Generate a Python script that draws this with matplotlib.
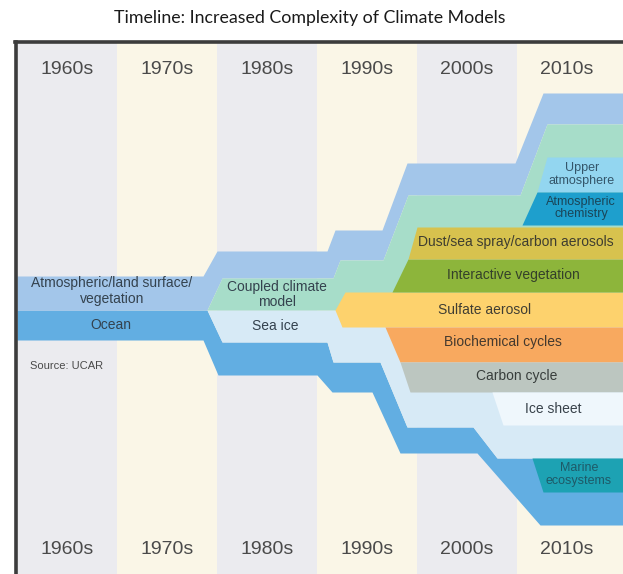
import numpy as np
import matplotlib
matplotlib.use("Agg")
import matplotlib.pyplot as plt

# ---------------- data ----------------
decades = [1960, 1970, 1980, 1990, 2000, 2010]
decade_labels = ["1960s", "1970s", "1980s", "1990s", "2000s", "2010s"]
column_colors = ["#EBEBEF", "#FAF6E7"]

# band edges: x in years, y in chart units (increasing downward)
atm_top_x = [1960, 1978.6, 1980.0, 1991.0, 1991.8, 1996.5, 1999.0, 2009.8, 2012.6, 2020.6]
atm_top_y = [276, 276, 251, 251, 230, 230, 163, 163, 93, 93]
atm_bot_x = [1960, 1979.0, 1980.5, 1991.6, 1992.3, 1996.6, 1999.1, 2010.3, 2013.0, 2020.6]
atm_bot_y = [310, 310, 278, 278, 260, 260, 195, 195, 124, 124]

ocean_top_x = [1960, 1979.0, 1980.5, 1991.0, 1991.6, 1996.3, 1999.0, 2005.6, 2008.0, 2020.6]
ocean_top_y = [310, 310, 342, 342, 362, 362, 427, 427, 458, 458]
ocean_bot_x = [1960, 1978.6, 1980.1, 1990.0, 1991.5, 1995.5, 1998.3, 2006.0, 2012.3, 2020.6]
ocean_bot_y = [340, 340, 375, 375, 392, 392, 453, 453, 525, 525]

seaice_start, seaice_top = 1979.0, 310
coupled_start, coupled_bot = 1979.0, 310

sulf_top_x, sulf_top_y = [1991.8, 1992.8, 2020.6], [310, 292, 292]
sulf_bot_x, sulf_bot_y = [1991.8, 1992.5, 2020.6], [310, 327, 327]

veg_top_x, veg_top_y = [1997.5, 1999.1, 2020.6], [292, 259, 259]
veg_bot = 292
dust_top_x, dust_top_y = [1999.1, 2000.0, 2020.6], [259, 227, 227]
dust_bot = 259

bio_top = 327
bio_bot_x, bio_bot_y = [1996.8, 1998.3, 2020.6], [327, 362, 362]
carb_top = 362
carb_bot_x, carb_bot_y = [1998.3, 1999.3, 2020.6], [362, 392, 392]
ice_top = 392
ice_bot_x, ice_bot_y = [2007.5, 2008.6, 2020.6], [392, 425, 425]

upper_top_x, upper_top_y = [2012.0, 2013.0, 2020.6], [192, 157, 157]
upper_bot = 192
chem_top_x, chem_top_y = [2010.5, 2012.0, 2020.6], [225, 192, 192]
chem_bot = 225
marine_top = 458
marine_bot_x, marine_bot_y = [2011.5, 2012.6, 2020.6], [458, 492, 492]

colors = {
    "atm": "#A3C6EA", "ocean": "#62AEE2", "seaice": "#D7EAF6", "coupled": "#A7DDC9",
    "sulf": "#FDD26D", "veg": "#8DB53B", "dust": "#D7C24E", "bio": "#F8A95F",
    "carb": "#BCC6C0", "ice": "#EFF7FC", "upper": "#93D6F0", "chem": "#1E9FCD",
    "marine": "#1DA2B3",
}

labels = [
    ("Atmospheric/land surface/\nvegetation", 1969.5, 291, 10, "#34424E"),
    ("Ocean", 1969.4, 325, 10, "#34424E"),
    ("Coupled climate\nmodel", 1986.0, 294.5, 10, "#34424E"),
    ("Sea ice", 1985.8, 326, 10, "#34424E"),
    ("Upper\natmosphere", 2016.5, 174.5, 9, "#34566A"),
    ("Atmospheric\nchemistry", 2016.4, 208, 9, "#1A4558"),
    ("Dust/sea spray/carbon aerosols", 2009.9, 242, 10, "#3E3D30"),
    ("Interactive vegetation", 2009.6, 275, 10, "#34402A"),
    ("Sulfate aerosol", 2006.8, 310, 10, "#403E33"),
    ("Biochemical cycles", 2008.6, 342, 10, "#44392E"),
    ("Carbon cycle", 2010.0, 376, 10, "#383E3C"),
    ("Ice sheet", 2013.6, 409, 10, "#38424A"),
    ("Marine\necosystems", 2016.2, 474.5, 9, "#1E5A68"),
]

# ---------------- plot ----------------
W, H = 623, 574
fig = plt.figure(figsize=(W / 100, H / 100), dpi=100)
fig.patch.set_facecolor("white")
ax_l, ax_t = 15.5, 41.5
ax = fig.add_axes([ax_l / W, 0, (W - ax_l) / W, 1 - ax_t / H])
x0 = 1960 - (17 - ax_l) / 10
ax.set_xlim(x0, 2020.6)
ax.set_ylim(574, ax_t)

for i, d in enumerate(decades):
    ax.axvspan(max(d, x0) if i else x0, d + 10 if i < len(decades) - 1 else 2021,
               color=column_colors[i % 2], lw=0, zorder=0)


def band(xt, yt, xb, yb, color, z):
    xs = np.union1d(xt, xb)
    top = np.interp(xs, xt, yt)
    bot = np.interp(xs, xb, yb)
    ax.fill_between(xs, top, bot, color=color, lw=0, zorder=z)


end = 2020.6
band(ocean_top_x, ocean_top_y, ocean_bot_x, ocean_bot_y, colors["ocean"], 1)
xs_si = [x for x in ocean_top_x if x >= seaice_start]
band([seaice_start, end], [seaice_top, seaice_top], xs_si,
     [ocean_top_y[ocean_top_x.index(x)] for x in xs_si], colors["seaice"], 2)
band(atm_top_x, atm_top_y, atm_bot_x, atm_bot_y, colors["atm"], 3)
xs_cc = [x for x in atm_bot_x if x >= coupled_start]
band(xs_cc, [atm_bot_y[atm_bot_x.index(x)] for x in xs_cc],
     [coupled_start, end], [coupled_bot, coupled_bot], colors["coupled"], 4)
band(sulf_top_x, sulf_top_y, sulf_bot_x, sulf_bot_y, colors["sulf"], 5)
band(veg_top_x, veg_top_y, [veg_top_x[0], end], [veg_bot, veg_bot], colors["veg"], 5)
band(dust_top_x, dust_top_y, [dust_top_x[0], end], [dust_bot, dust_bot], colors["dust"], 5)
band([bio_bot_x[0], end], [bio_top, bio_top], bio_bot_x, bio_bot_y, colors["bio"], 5)
band([carb_bot_x[0], end], [carb_top, carb_top], carb_bot_x, carb_bot_y, colors["carb"], 5)
band([ice_bot_x[0], end], [ice_top, ice_top], ice_bot_x, ice_bot_y, colors["ice"], 5)
band(upper_top_x, upper_top_y, [upper_top_x[0], end], [upper_bot, upper_bot], colors["upper"], 5)
band(chem_top_x, chem_top_y, [chem_top_x[0], end], [chem_bot, chem_bot], colors["chem"], 5)
band([marine_bot_x[0], end], [marine_top, marine_top], marine_bot_x, marine_bot_y, colors["marine"], 5)

font = "Liberation Sans"
for txt, x, y, fs, c in labels:
    ax.text(x, y, txt, ha="center", va="center", fontsize=fs, color=c,
            family=font, linespacing=1.1, zorder=10)
ax.text(1961.3, 366, "Source: UCAR", ha="left", va="center", fontsize=8,
        color="#4a4a4a", family=font, zorder=10)

for d, lab in zip(decades, decade_labels):
    ax.text(d + 5, 70, lab, ha="center", va="center", fontsize=14,
            color="#4a4a4a", family=font, zorder=10)
    ax.text(d + 5, 550, lab, ha="center", va="center", fontsize=14,
            color="#4a4a4a", family=font, zorder=10)

ax.set_xticks([])
ax.set_yticks([])
for s in ["right", "bottom"]:
    ax.spines[s].set_visible(False)
for s in ["left", "top"]:
    ax.spines[s].set_linewidth(2.6)
    ax.spines[s].set_color("#3C3C3C")
    ax.spines[s].set_zorder(20)

fig.text(310 / W, 1 - 18 / H, "Timeline: Increased Complexity of Climate Models",
         ha="center", va="center", fontsize=12.8, family="Lato", color="#1a1a1a")

fig.savefig("out.png", dpi=100)
